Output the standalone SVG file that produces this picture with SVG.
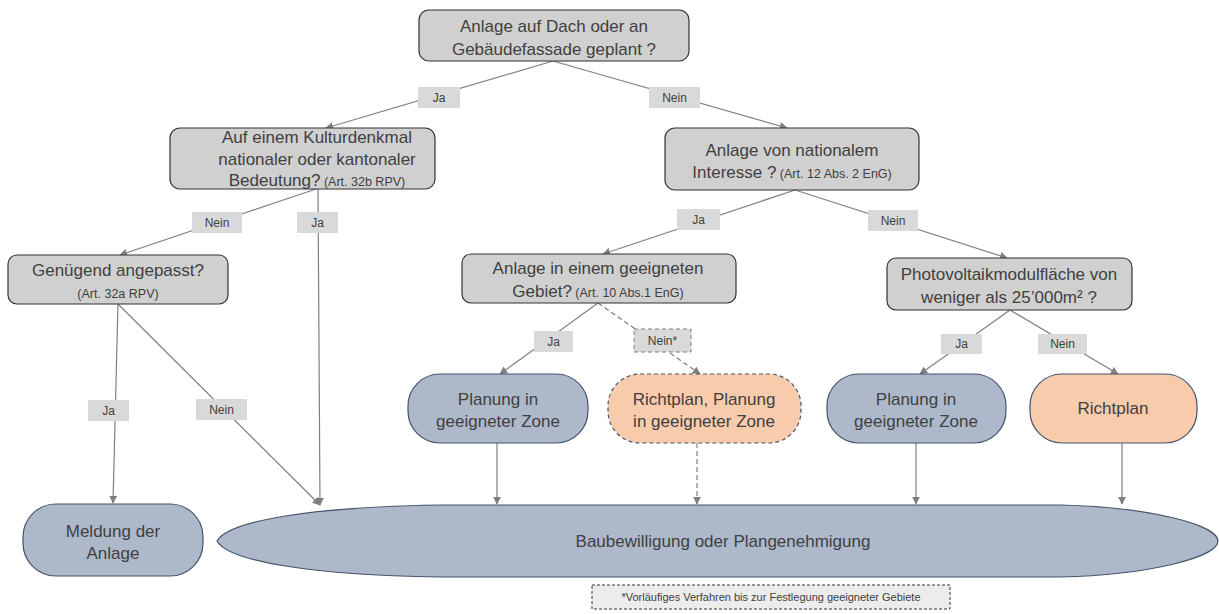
<svg xmlns="http://www.w3.org/2000/svg" width="1219" height="614" viewBox="0 0 1219 614">
<defs>
<marker id="arr" viewBox="0 0 10 10" refX="9" refY="5" markerWidth="8" markerHeight="8" markerUnits="userSpaceOnUse" orient="auto">
<path d="M0,0 L10,5 L0,10 Z" fill="#7f7f7f"/>
</marker>
<style>
text{font-family:"Liberation Sans",Arial,sans-serif;fill:#404040;text-anchor:middle}
.q{fill:#d0d0d0;stroke:#333;stroke-width:1.2}
.b{fill:#adb9ca;stroke:#44546a;stroke-width:1.2}
.o{fill:#f8cbad;stroke:#44546a;stroke-width:1.2}
.dash{stroke-dasharray:4 3}
.t{font-size:17px}
.s{font-size:12.5px}
.lb{fill:#d9d9d9}
.lt{font-size:12px}
.c{stroke:#808080;stroke-width:1.2;fill:none;marker-end:url(#arr)}
.cd{stroke:#808080;stroke-width:1.2;fill:none;stroke-dasharray:5 3;marker-end:url(#arr)}
</style>
</defs>
<rect width="1219" height="614" fill="#fff"/>
<g id="connectors">
<path class="c" d="M553,61 L326,128"/>
<path class="c" d="M553,61 L787,128"/>
<path class="c" d="M316,189 L120,255"/>
<path class="c" d="M318,189 L320,505"/>
<path class="c" d="M118,304 L113,503"/>
<path class="c" d="M118,304 L320,505"/>
<path class="c" d="M795,190 L603,254"/>
<path class="c" d="M795,190 L1007,258"/>
<path class="c" d="M598,303 L500,374"/>
<path class="cd" d="M598,303 L700,374"/>
<path class="c" d="M1010,310 L920,374"/>
<path class="c" d="M1010,310 L1118,374"/>
<path class="c" d="M497,443 L497,504"/>
<path class="cd" d="M697,443 L697,504"/>
<path class="c" d="M916,443 L916,504"/>
<path class="c" d="M1122,443 L1122,504"/>
</g>
<g id="labels">
<rect class="lb" x="418" y="87" width="42" height="21"/><text class="lt" x="439" y="102">Ja</text>
<rect class="lb" x="649" y="87" width="51" height="21"/><text class="lt" x="674.5" y="102">Nein</text>
<rect class="lb" x="192" y="212" width="50" height="21"/><text class="lt" x="217" y="227">Nein</text>
<rect class="lb" x="297" y="212" width="41" height="21"/><text class="lt" x="317.5" y="227">Ja</text>
<rect class="lb" x="88" y="400" width="41" height="21"/><text class="lt" x="108.5" y="415">Ja</text>
<rect class="lb" x="196" y="399" width="51" height="21"/><text class="lt" x="221.5" y="414">Nein</text>
<rect class="lb" x="677" y="209" width="43" height="21"/><text class="lt" x="698.5" y="224">Ja</text>
<rect class="lb" x="868" y="210" width="50" height="21"/><text class="lt" x="893" y="225">Nein</text>
<rect class="lb" x="534" y="331" width="39" height="21"/><text class="lt" x="553.5" y="346">Ja</text>
<rect class="lb dash" x="634" y="329" width="57" height="23" stroke="#7f7f7f" stroke-width="1"/><text class="lt" x="662.5" y="345">Nein*</text>
<rect class="lb" x="941" y="334" width="41" height="20"/><text class="lt" x="961.5" y="348">Ja</text>
<rect class="lb" x="1038" y="334" width="49" height="20"/><text class="lt" x="1062.5" y="348">Nein</text>
</g>
<g id="n1">
<rect class="q" x="419" y="10" width="270" height="51" rx="10"/>
<text class="t" x="554" y="32">Anlage auf Dach oder an</text>
<text class="t" x="554" y="55">Gebäudefassade geplant ?</text>
</g>
<g id="n2">
<rect class="q" x="170" y="128" width="265" height="61" rx="10"/>
<text class="t" x="317" y="143">Auf einem Kulturdenkmal</text>
<text class="t" x="317" y="165">nationaler oder kantonaler</text>
<text x="317" y="186"><tspan class="t">Bedeutung?</tspan><tspan class="s"> (Art. 32b RPV)</tspan></text>
</g>
<g id="n3">
<rect class="q" x="665" y="128" width="254" height="62" rx="10"/>
<text class="t" x="792" y="156">Anlage von nationalem</text>
<text x="792" y="178"><tspan class="t">Interesse ?</tspan><tspan class="s"> (Art. 12 Abs. 2 EnG)</tspan></text>
</g>
<g id="n4">
<rect class="q" x="8" y="255" width="220" height="49" rx="9"/>
<text class="t" x="118" y="276">Genügend angepasst?</text>
<text class="s" x="118" y="298">(Art. 32a RPV)</text>
</g>
<g id="n5">
<rect class="q" x="462" y="254" width="274" height="49" rx="9"/>
<text class="t" x="598" y="274">Anlage in einem geeigneten</text>
<text x="598" y="297"><tspan class="t">Gebiet?</tspan><tspan class="s"> (Art. 10 Abs.1 EnG)</tspan></text>
</g>
<g id="n6">
<rect class="q" x="887" y="258" width="245" height="52" rx="9"/>
<text class="t" x="1009" y="280">Photovoltaikmodulfläche von</text>
<text class="t" x="1009" y="303">weniger als 25’000m² ?</text>
</g>
<g id="n7">
<rect class="b" x="408" y="374" width="180" height="69" rx="32"/>
<text class="t" x="498" y="405">Planung in</text>
<text class="t" x="498" y="427">geeigneter Zone</text>
</g>
<g id="n8">
<rect class="o dash" x="608" y="374" width="193" height="69" rx="32"/>
<text class="t" x="704" y="405">Richtplan, Planung</text>
<text class="t" x="704" y="427">in geeigneter Zone</text>
</g>
<g id="n9">
<rect class="b" x="827" y="374" width="179" height="69" rx="32"/>
<text class="t" x="916" y="405">Planung in</text>
<text class="t" x="916" y="427">geeigneter Zone</text>
</g>
<g id="n10">
<rect class="o" x="1030" y="374" width="167" height="69" rx="32"/>
<text class="t" x="1113" y="414">Richtplan</text>
</g>
<g id="n11">
<rect class="b" x="23" y="504" width="180" height="72" rx="33"/>
<text class="t" x="113" y="537">Meldung der</text>
<text class="t" x="113" y="559">Anlage</text>
</g>
<g id="n12">
<path class="b" d="M217,541 C228,521 310,507 440,505 L1060,505 C1150,507 1218,525 1218,541 C1218,557 1150,575 1060,577 L440,577 C310,575 228,561 217,541 Z"/>
<text class="t" x="723" y="547">Baubewilligung oder Plangenehmigung</text>
</g>
<g id="note">
<rect x="592" y="585" width="358" height="24" fill="#ececec" stroke="#333" stroke-width="1" stroke-dasharray="3 2"/>
<text x="771" y="601" style="font-size:11px">*Vorläufiges Verfahren bis zur Festlegung geeigneter Gebiete</text>
</g>
</svg>
